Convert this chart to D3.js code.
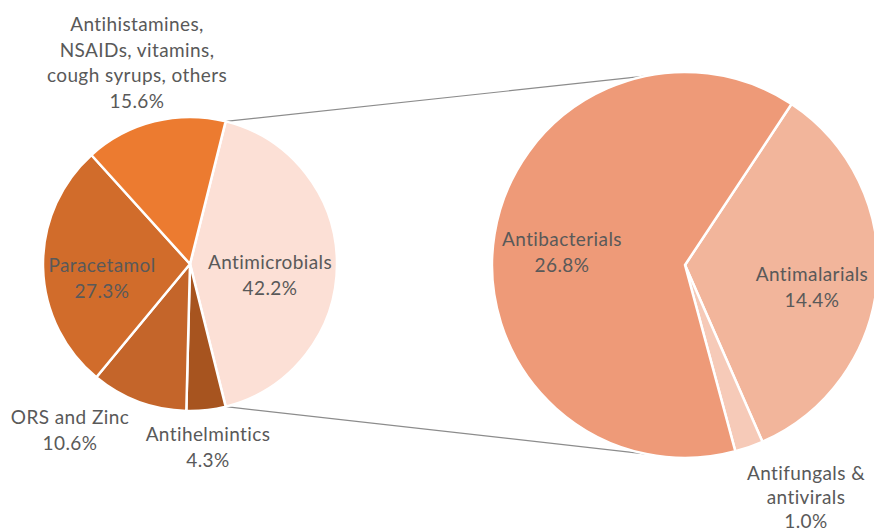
<!DOCTYPE html>
<html>
<head>
<meta charset="utf-8">
<script src="https://cdn.jsdelivr.net/npm/d3@7"></script>
<style>
  body { margin: 0; background: #fff; }
  svg { display: block; }
  .lbl { font-family: Lato, "Open Sans", sans-serif; font-size: 19px; letter-spacing: 0.4px; fill: #595959; }
</style>
</head>
<body>
<div id="chart"></div>
<script>
// primary pie (clockwise, starting with the exploded slice)
const mainNames = ['Antimicrobials', 'Antihelmintics', 'ORS and Zinc', 'Paracetamol', 'Antihistamines, NSAIDs, vitamins, cough syrups, others'];
const mainValues = [42.2, 4.3, 10.6, 27.3, 15.6];
const mainColors = ['#fce0d6', '#a7541f', '#c4652a', '#d16c2b', '#ec7b30'];

// secondary pie: breakdown of antimicrobials
const subNames = ['Antimalarials', 'Antifungals & antivirals', 'Antibacterials'];
const subValues = [14.4, 1.0, 26.8];
const subColors = ['#f2b59b', '#f6cab8', '#ee9a78'];

const width = 874, height = 531;
const deg = Math.PI / 180;

const svg = d3.select('#chart').append('svg')
    .attr('width', width)
    .attr('height', height);

// main pie
const c1 = [190, 264], r1 = 147;
const mainStart = 90 * deg - (mainValues[0] / 100) * Math.PI;
const pie1 = d3.pie().sort(null).startAngle(mainStart).endAngle(mainStart + 2 * Math.PI);
const arcs1 = pie1(mainValues);
const arc1 = d3.arc().innerRadius(0).outerRadius(r1);

// sub pie
const c2 = [685, 265], r2 = 193;
const subStart = 33.5 * deg;
const pie2 = d3.pie().sort(null).startAngle(subStart).endAngle(subStart + 2 * Math.PI);
const arcs2 = pie2(subValues);
const arc2 = d3.arc().innerRadius(0).outerRadius(r2);

// connector lines
const a0 = arcs1[0].startAngle, a1 = arcs1[0].endAngle;
const p1 = d3.pointRadial(a0, r1), p2 = d3.pointRadial(a1, r1);
const q1 = d3.pointRadial(-12 * deg, r2), q2 = d3.pointRadial(192 * deg, r2);
svg.append('g')
    .selectAll('line')
    .data([[p1, q1], [p2, q2]])
    .enter()
    .append('line')
        .attr('x1', d => c1[0] + d[0][0])
        .attr('y1', d => c1[1] + d[0][1])
        .attr('x2', d => c2[0] + d[1][0])
        .attr('y2', d => c2[1] + d[1][1])
        .attr('stroke', '#8c8c8c')
        .attr('stroke-width', 1.2);

const g1 = svg.append('g').attr('transform', `translate(${c1[0]},${c1[1]})`);
g1.selectAll('path')
    .data(arcs1)
    .enter()
    .append('path')
        .attr('d', arc1)
        .attr('fill', (d, i) => mainColors[i])
        .attr('stroke', '#fff')
        .attr('stroke-width', 2.5)
        .attr('stroke-linejoin', 'round');

const g2 = svg.append('g').attr('transform', `translate(${c2[0]},${c2[1]})`);
g2.selectAll('path')
    .data(arcs2)
    .enter()
    .append('path')
        .attr('d', arc2)
        .attr('fill', (d, i) => subColors[i])
        .attr('stroke', '#fff')
        .attr('stroke-width', 2.5)
        .attr('stroke-linejoin', 'round');

// labels: lines of text + anchor position (centre x, first line y)
const labels = [
    { lines: ['Antimicrobials', mainValues[0].toFixed(1) + '%'], x: 270, y: 269 },
    { lines: ['Antihelmintics', mainValues[1].toFixed(1) + '%'], x: 208, y: 441 },
    { lines: ['ORS and Zinc', mainValues[2].toFixed(1) + '%'], x: 70, y: 424 },
    { lines: ['Paracetamol', mainValues[3].toFixed(1) + '%'], x: 102, y: 272 },
    { lines: ['Antihistamines,', 'NSAIDs, vitamins,', 'cough syrups, others', mainValues[4].toFixed(1) + '%'], x: 137, y: 31 },
    { lines: ['Antimalarials', subValues[0].toFixed(1) + '%'], x: 812, y: 281 },
    { lines: ['Antifungals &', 'antivirals', subValues[1].toFixed(1) + '%'], x: 806, y: 480, dy: 24 },
    { lines: ['Antibacterials', subValues[2].toFixed(1) + '%'], x: 562, y: 246 }
];

const lg = svg.append('g');
labels.forEach(l => {
    const t = lg.append('text')
        .attr('class', 'lbl')
        .attr('text-anchor', 'middle')
        .attr('x', l.x)
        .attr('y', l.y);
    l.lines.forEach((s, i) => {
        t.append('tspan')
            .attr('x', l.x)
            .attr('dy', i === 0 ? 0 : (l.dy || 25.5))
            .text(s);
    });
});
</script>
</body>
</html>
